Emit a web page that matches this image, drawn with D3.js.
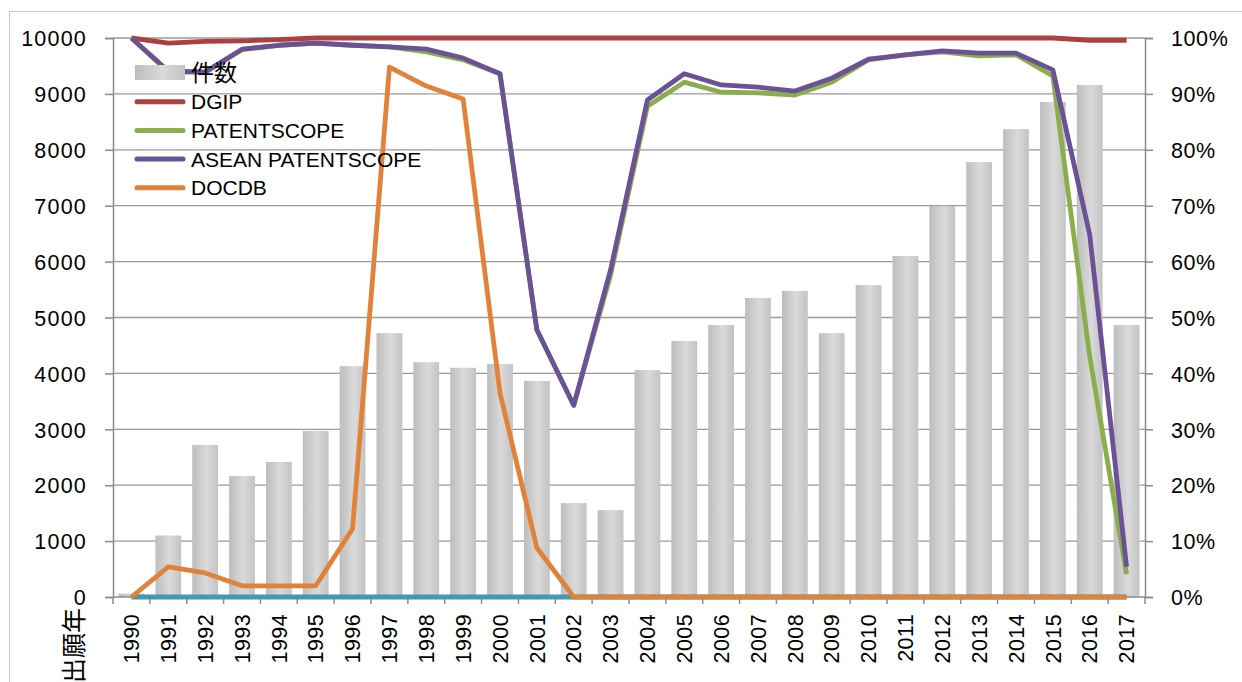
<!DOCTYPE html>
<html><head><meta charset="utf-8">
<script src="https://cdn.jsdelivr.net/npm/d3@7"></script>
<style>body{margin:0;background:#fff}svg{display:block}text{font-family:"Liberation Sans",Arial,sans-serif;fill:#000}</style>
</head><body><svg id="c" width="1242" height="682"></svg>
<script>
const years = d3.range(1990, 2018).map(String);
const counts = [60,1100,2720,2165,2415,2970,4130,4720,4200,4100,4170,3865,1680,1555,4060,4580,4865,5350,5475,4720,5580,6100,6995,7780,8370,8855,9160,4865];
const dgip = [100,99.1,99.4,99.5,99.7,100,100,100,100,100,100,100,100,100,100,100,100,100,100,100,100,100,100,100,100,100,99.6,99.6];
const patentscope = [100,93.9,93.9,97.9,98.7,99.1,98.7,98.4,97.5,96.1,93.6,47.8,34.3,57.6,87.8,92.1,90.3,90.2,89.8,92.1,96.1,97,97.5,96.8,97,93.2,43,4.1];
const aseanPatentscope = [100,94.1,93.9,98,98.7,99.1,98.7,98.4,98,96.4,93.6,47.8,34.3,58.5,88.9,93.6,91.6,91.2,90.5,92.8,96.2,97,97.7,97.3,97.3,94.3,64.8,5.4];
const docdb = [0,5.4,4.3,2.0,2.0,2.0,12.2,94.8,91.4,89.1,36.5,8.8,0,0,0,0,0,0,0,0,0,0,0,0,0,0,0,0];
const other = years.map(() => 0);
const leftTicks = d3.range(0, 10001, 1000);
const rightTicks = d3.range(0, 101, 10);
const legendLabels = ["件数","DGIP","PATENTSCOPE","ASEAN PATENTSCOPE","DOCDB"];

const svg = d3.select("#c");
const L = 113, R = 1145, T = 38, B = 597;
const x = d3.scaleBand().domain(years).range([L, R]).paddingInner(0.3).paddingOuter(0.15);
const xc = d => x(d) + x.bandwidth() / 2;
const yL = d3.scaleLinear().domain([0, 10000]).range([B, T]);
const yR = d3.scaleLinear().domain([0, 100]).range([B, T]);

const defs = svg.append("defs");
const g = defs.append("linearGradient").attr("id", "barg").attr("x1", 0).attr("x2", 1).attr("y1", 0).attr("y2", 0);
g.append("stop").attr("offset", "0%").attr("stop-color", "#bdbdbd");
g.append("stop").attr("offset", "55%").attr("stop-color", "#dadada");
g.append("stop").attr("offset", "100%").attr("stop-color", "#c3c3c3");

// chart border
svg.append("rect").attr("x", 9.5).attr("y", 11.5).attr("width", 1300).attr("height", 800)
  .attr("fill", "none").attr("stroke", "#c8c8c8").attr("stroke-width", 1);

// gridlines
svg.append("g").selectAll("line").data(leftTicks.slice(1)).join("line")
  .attr("x1", L).attr("x2", R).attr("y1", d => yL(d)).attr("y2", d => yL(d))
  .attr("stroke", "#9a9a9a").attr("stroke-width", 1.3);

// left axis
const axL = svg.append("g").attr("transform", `translate(${L},0)`)
  .call(d3.axisLeft(yL).tickValues(leftTicks).tickSize(8).tickPadding(18).tickFormat(d3.format("d")));
// right axis
const axR = svg.append("g").attr("transform", `translate(${R},0)`)
  .call(d3.axisRight(yR).tickValues(rightTicks).tickSize(8).tickPadding(18).tickFormat(d => d + "%"));
[axL, axR].forEach(a => {
  a.selectAll("path").attr("stroke", "#8a8a8a").attr("stroke-width", 1.5);
  a.selectAll("line").attr("stroke", "#8a8a8a").attr("stroke-width", 1.5);
  a.selectAll("text").style("font-size", "21.5px").attr("font-family", null).attr("dy", "0.36em");
});
axL.selectAll("text").style("letter-spacing", "1.2px");
axR.selectAll("text").style("letter-spacing", "0.6px");

// bars
svg.append("g").selectAll("rect").data(counts).join("rect")
  .attr("x", (d, i) => x(years[i])).attr("width", x.bandwidth())
  .attr("y", d => yL(d)).attr("height", d => B - yL(d)).attr("fill", "url(#barg)");

// bottom axis
const step = x.step();
const bax = svg.append("g");
bax.append("line").attr("x1", L).attr("x2", R).attr("y1", B).attr("y2", B).attr("stroke", "#8a8a8a").attr("stroke-width", 1.5);
bax.selectAll("line.t").data(d3.range(years.length + 1)).join("line").attr("class", "t")
  .attr("x1", i => L + i * step).attr("x2", i => L + i * step).attr("y1", B).attr("y2", B + 7)
  .attr("stroke", "#8a8a8a").attr("stroke-width", 1.5);
bax.selectAll("text").data(years).join("text")
  .attr("transform", d => `translate(${xc(d)},614) rotate(-90)`)
  .attr("text-anchor", "end").attr("dy", "0.36em").style("font-size", "21.5px").style("letter-spacing", "0.4px").text(d => d);

// axis title
svg.append("text").attr("transform", "translate(74,608) rotate(-90)")
  .attr("text-anchor", "end").attr("dy", "0.36em")
  .style("font-family", "'Noto Sans CJK JP',sans-serif").style("font-size", "25px").text("出願年");

// lines
const line = d3.line().x((d, i) => xc(years[i])).y(d => yR(d)).curve(d3.curveLinear);
const series = [
  {v: other, c: "#4399b2"},
  {v: dgip, c: "#ad403e"},
  {v: patentscope, c: "#8aae4b"},
  {v: aseanPatentscope, c: "#6b5196"},
  {v: docdb, c: "#e0823a"}
];
svg.append("g").selectAll("path").data(series).join("path")
  .attr("d", d => line(d.v)).attr("fill", "none").attr("stroke", d => d.c)
  .attr("stroke-width", 4.8).attr("stroke-linejoin", "round");

// legend
const lg = svg.append("g");
const lcol = ["url(#barg)", "#ad403e", "#8aae4b", "#6b5196", "#e0823a"];
legendLabels.forEach((t, i) => {
  const yy = 73 + i * 28.7;
  if (i === 0) {
    lg.append("rect").attr("x", 135).attr("y", yy - 8).attr("width", 50).attr("height", 15).attr("fill", lcol[0]);
  } else {
    lg.append("line").attr("x1", 137).attr("x2", 183).attr("y1", yy).attr("y2", yy)
      .attr("stroke", lcol[i]).attr("stroke-width", 5).attr("stroke-linecap", "round");
  }
  lg.append("text").attr("x", 191).attr("y", yy).attr("dy", "0.36em")
    .style("font-size", i === 0 ? "23px" : "21px")
    .style("font-family", i === 0 ? "'Noto Sans CJK JP',sans-serif" : null).text(t);
});
</script></body></html>
